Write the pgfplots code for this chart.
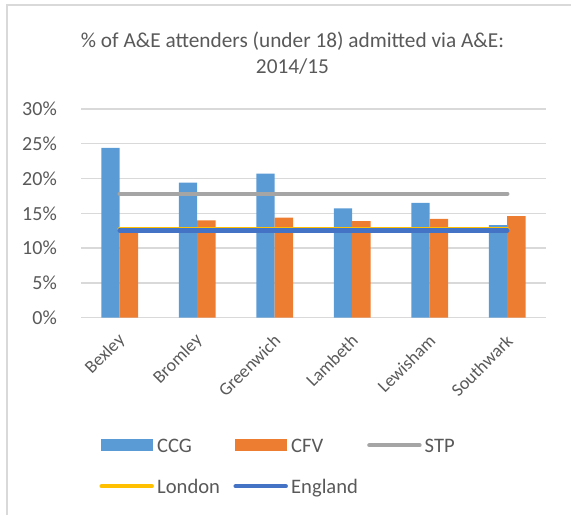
\documentclass[border=0pt]{standalone}
\usepackage{fontspec}
\setmainfont{Carlito}
\usepackage{pgfplots}
\pgfplotsset{compat=1.18}

\definecolor{ccg}{HTML}{5B9BD5}
\definecolor{cfv}{HTML}{ED7D31}
\definecolor{stp}{HTML}{A5A5A5}
\definecolor{london}{HTML}{FFC000}
\definecolor{england}{HTML}{4472C4}
\definecolor{gridgray}{HTML}{D9D9D9}
\definecolor{textgray}{HTML}{595959}

\begin{document}
\begin{tikzpicture}
% page = 571 x 515, origin at the plot area's lower left corner
\useasboundingbox (-81pt,-197.3pt) rectangle (490pt,317.7pt);

\begin{axis}[
    at={(0pt,0pt)}, anchor=south west,
    scale only axis,
    width=465pt, height=208.7pt,
    xmin=-0.5, xmax=5.5,
    ymin=0, ymax=30,
    xtick={0,1,2,3,4,5},
    xticklabels={Bexley,Bromley,Greenwich,Lambeth,Lewisham,Southwark},
    ytick={0,5,10,15,20,25,30},
    yticklabels={0\%,5\%,10\%,15\%,20\%,25\%,30\%},
    axis line style={draw=none},
    major tick length=0pt,
    ymajorgrids,
    grid style={gridgray, line width=1.3pt},
    y tick label style={font=\fontsize{20}{24}\selectfont, text=textgray,
        anchor=east, inner sep=0pt, xshift=-24pt},
    x tick label style={font=\fontsize{18}{21}\selectfont, text=textgray,
        xshift=2.5pt, yshift=-20pt, rotate=45, anchor=east, inner sep=0pt},
    legend columns=3,
    legend cell align=left,
    legend style={draw=none, fill=none, inner sep=0pt,
        at={(0.0387,-0.5716)}, anchor=north west,
        column sep=0pt, row sep=21pt,
        nodes={text width=73pt, inner xsep=3pt, inner ysep=0pt,
            text height=15pt, text depth=5pt, align=left,
            font=\fontsize{20.6}{24}\selectfont, text=textgray}},
]

% CCG bars
\addplot[ybar, bar width=18.4pt, bar shift=-9.2pt, fill=ccg, draw=none,
    legend image code/.code={\fill[ccg] (2pt,-4pt) rectangle (54pt,8pt);
        \fill[white, opacity=0] (0pt,2pt) rectangle (55pt,2.1pt);}]
    coordinates {(0,24.4) (1,19.4) (2,20.7) (3,15.7) (4,16.5) (5,13.3)};
\addlegendentry{CCG}

% CFV bars
\addplot[ybar, bar width=18.4pt, bar shift=9.2pt, fill=cfv, draw=none,
    legend image code/.code={\fill[cfv] (2pt,-4pt) rectangle (54pt,8pt);
        \fill[white, opacity=0] (0pt,2pt) rectangle (55pt,2.1pt);}]
    coordinates {(0,12.9) (1,14.0) (2,14.4) (3,13.9) (4,14.2) (5,14.6)};
\addlegendentry{CFV}

% STP, London, England averages
\addplot[stp, line width=4.5pt, line cap=round, mark=none,
    legend image code/.code={
        \draw[line width=4.5pt, line cap=round] (2.5pt,2pt) -- (52.5pt,2pt);}]
    coordinates {(0,17.8) (5,17.8)};
\addlegendentry{STP}

\addplot[london, line width=4.5pt, line cap=round, mark=none,
    legend image code/.code={
        \draw[line width=4.5pt, line cap=round] (2.5pt,2pt) -- (52.5pt,2pt);}]
    coordinates {(0,12.75) (5,12.75)};
\addlegendentry{London}

\addplot[england, line width=4.5pt, line cap=round, mark=none,
    legend image code/.code={
        \draw[line width=4.5pt, line cap=round] (2.5pt,2pt) -- (52.5pt,2pt);}]
    coordinates {(0,12.55) (5,12.55)};
\addlegendentry{England}

\end{axis}

% title
\node[anchor=base, text=textgray, font=\fontsize{21.3}{25}\selectfont]
    at (211.5pt,270.7pt) {\% of A\&E attenders (under 18) admitted via A\&E:};
\node[anchor=base, text=textgray, font=\fontsize{21.3}{25}\selectfont]
    at (211.5pt,244.7pt) {2014/15};

% chart border (top and left edges visible)
\draw[gridgray, line width=1.5pt] (-74pt,-197.3pt) -- (-74pt,312.7pt) -- (490pt,312.7pt);
\end{tikzpicture}
\end{document}
